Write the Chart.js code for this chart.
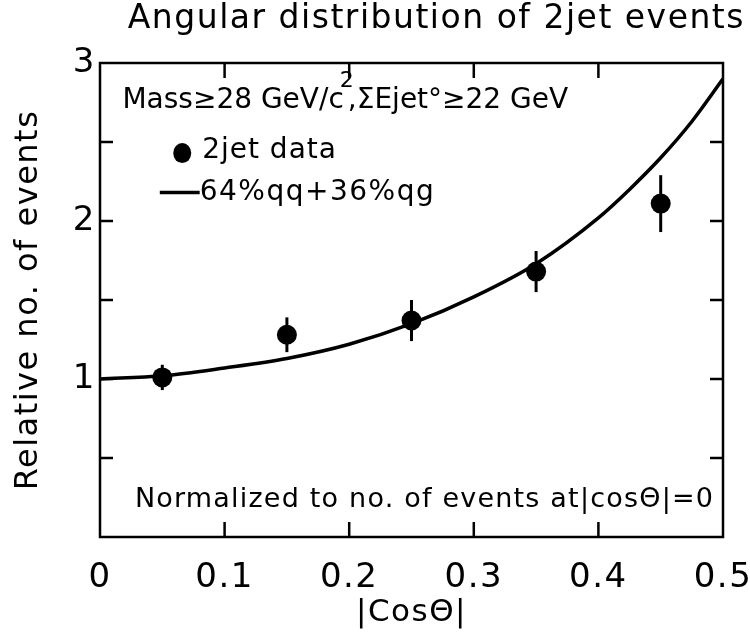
<!DOCTYPE html>
<html>
<head>
<meta charset="utf-8">
<script src="https://cdn.jsdelivr.net/npm/chart.js@4"></script>
<style>
  html, body { margin: 0; padding: 0; background: #fff; }
  #wrap { width: 750px; height: 633px; }
</style>
</head>
<body>
<div id="wrap"><canvas id="chart" width="750" height="633"></canvas></div>
<script>
// measured points (|cos theta| bin centres)
const cosBins = [0.05, 0.15, 0.25, 0.35, 0.45];
const dataVals = [1.01, 1.28, 1.37, 1.68, 2.11];
const dataErr = [0.08, 0.11, 0.13, 0.13, 0.18];

// 64% qq + 36% qg prediction
const curveX = [0, 0.05, 0.1, 0.15, 0.2, 0.25, 0.3, 0.35, 0.4, 0.425, 0.45, 0.475, 0.5];
const curveY = [1.00, 1.02, 1.07, 1.13, 1.22, 1.35, 1.52, 1.73, 2.02, 2.20, 2.40, 2.63, 2.90];

const xTicks = [0, 0.1, 0.2, 0.3, 0.4, 0.5];
const yLabels = [1, 2, 3];

const FONT = "'DejaVu Sans', sans-serif";

let framePlugin = {
    id: "frame",
    beforeUpdate(chart) {
        chart.ctx.letterSpacing = "1.5px";
    },
    beforeDraw(chart) {
        chart.ctx.letterSpacing = "1.5px";
    },
    beforeDatasetsDraw(chart) {
        let ctx = chart.ctx;
        let xs = chart.scales.x, ys = chart.scales.y;
        // error bars
        ctx.save();
        ctx.strokeStyle = "#000";
        ctx.lineWidth = 3;
        for (let i = 0; i < cosBins.length; i++) {
            let px = xs.getPixelForValue(cosBins[i]);
            ctx.beginPath();
            ctx.moveTo(px, ys.getPixelForValue(dataVals[i] - dataErr[i]));
            ctx.lineTo(px, ys.getPixelForValue(dataVals[i] + dataErr[i]));
            ctx.stroke();
        }
        ctx.restore();
    },
    afterDraw(chart) {
        let ctx = chart.ctx;
        let a = chart.chartArea;
        let xs = chart.scales.x, ys = chart.scales.y;
        ctx.save();
        ctx.strokeStyle = "#000";
        ctx.lineWidth = 2.5;
        ctx.strokeRect(a.left, a.top, a.right - a.left, a.bottom - a.top);

        // inward ticks
        ctx.beginPath();
        xs.ticks.forEach(t => {
            if (t.value <= 0 || t.value >= 0.5) return;
            let px = xs.getPixelForValue(t.value);
            ctx.moveTo(px, a.bottom); ctx.lineTo(px, a.bottom - 15);
            ctx.moveTo(px, a.top); ctx.lineTo(px, a.top + 15);
        });
        ys.ticks.forEach(t => {
            if (t.value <= 0 || t.value >= 3) return;
            let py = ys.getPixelForValue(t.value);
            ctx.moveTo(a.left, py); ctx.lineTo(a.left + 13, py);
            ctx.moveTo(a.right, py); ctx.lineTo(a.right - 13, py);
        });
        ctx.stroke();

        // annotation texts
        ctx.fillStyle = "#000";
        ctx.textBaseline = "middle";
        ctx.textAlign = "left";
        ctx.letterSpacing = "0px";
        ctx.font = "28px " + FONT;
        let tx = xs.getPixelForValue(0.018), ty = ys.getPixelForValue(2.76);
        let part1 = "Mass\u226528 GeV/c";
        ctx.fillText(part1, tx, ty);
        let w1 = ctx.measureText(part1).width;
        ctx.font = "22px " + FONT;
        ctx.fillText("2", tx + w1 - 4, ty - 20);
        ctx.font = "28px " + FONT;
        ctx.fillText(",\u03A3Ejet\u00B0\u226522 GeV", tx + w1 + 4, ty);

        // legend
        ctx.letterSpacing = "1px";
        let lx = xs.getPixelForValue(0.066), ly = ys.getPixelForValue(2.43);
        ctx.beginPath();
        ctx.ellipse(lx, ly, 9, 10, 0, 0, Math.PI * 2);
        ctx.fill();
        ctx.fillText("2jet data", xs.getPixelForValue(0.082), ly - 2);
        let ly2 = ys.getPixelForValue(2.18);
        ctx.lineWidth = 3.5;
        ctx.beginPath();
        ctx.moveTo(xs.getPixelForValue(0.048), ly2);
        ctx.lineTo(xs.getPixelForValue(0.08), ly2);
        ctx.stroke();
        ctx.letterSpacing = "1.5px";
        ctx.fillText("64%qq+36%qg", xs.getPixelForValue(0.08), ly2);

        ctx.letterSpacing = "1.2px";
        ctx.font = "27px " + FONT;
        ctx.fillText("Normalized to no. of events at|cos\u0398|=0",
            xs.getPixelForValue(0.028), ys.getPixelForValue(0.235));
        ctx.restore();
    }
};

let ctx = document.getElementById("chart").getContext("2d");

let chartInstance = new Chart(ctx, {
    type: "line",
    data: {
        datasets: [
            {
                label: "64%qq+36%qg",
                data: curveX.map((x, i) => ({ x: x, y: curveY[i] })),
                borderColor: "#000",
                borderWidth: 3.5,
                pointRadius: 0,
                cubicInterpolationMode: "monotone",
                fill: false
            },
            {
                label: "2jet data",
                data: cosBins.map((x, i) => ({ x: x, y: dataVals[i] })),
                showLine: false,
                pointRadius: 10,
                pointStyle: "circle",
                backgroundColor: "#000",
                borderColor: "#000",
                borderWidth: 0
            }
        ]
    },
    options: {
        responsive: false,
        animation: false,
        layout: { padding: { left: 0, right: 5, top: 0, bottom: 0 } },
        plugins: {
            legend: { display: false },
            tooltip: { enabled: false },
            title: {
                display: true,
                text: "Angular distribution of 2jet events",
                align: "end",
                color: "#000",
                font: { family: FONT, size: 33, weight: "normal", lineHeight: 1.2 },
                padding: { top: 0, bottom: 23.4 }
            }
        },
        scales: {
            x: {
                type: "linear",
                min: 0,
                max: 0.5,
                afterFit: s => { s.height = 96; s.paddingLeft = 0; s.paddingRight = 0; },
                afterBuildTicks: s => { s.ticks = xTicks.map(v => ({ value: v })); },
                grid: { display: false, drawTicks: false },
                border: { display: false },
                ticks: {
                    color: "#000",
                    padding: 21,
                    maxRotation: 0,
                    font: { family: FONT, size: 34 },
                    callback: v => String(v)
                },
                title: {
                    display: true,
                    text: "|Cos\u0398|",
                    color: "#000",
                    font: { family: FONT, size: 31 },
                    padding: { top: 0, bottom: 1 }
                }
            },
            y: {
                type: "linear",
                min: 0,
                max: 3,
                afterFit: s => { s.width = 100; s.paddingTop = 0; s.paddingBottom = 0; },
                grid: { display: false, drawTicks: false },
                border: { display: false },
                ticks: {
                    stepSize: 0.5,
                    color: "#000",
                    padding: 4,
                    font: { family: FONT, size: 34 },
                    callback: v => (yLabels.includes(v) ? String(v) : "")
                },
                title: {
                    display: true,
                    text: "Relative no. of events",
                    color: "#000",
                    font: { family: FONT, size: 32 },
                    padding: { top: 9, bottom: 0 }
                }
            },
            y2: {
                type: "linear",
                position: "right",
                min: 0,
                max: 3,
                afterFit: s => { s.width = 22; s.paddingTop = 0; s.paddingBottom = 0; },
                grid: { display: false, drawTicks: false },
                border: { display: false },
                ticks: { display: false }
            }
        }
    },
    plugins: [framePlugin]
});
</script>
</body>
</html>
